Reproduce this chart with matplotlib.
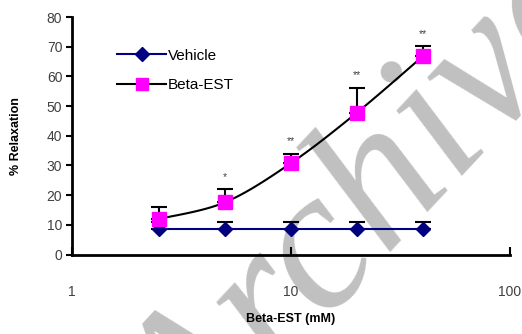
import numpy as np
import matplotlib
matplotlib.use("Agg")
from matplotlib import pyplot as plt

plt.rcParams['font.family'] = ['Liberation Sans', 'DejaVu Sans']

# Data
conc = [2.5, 5, 10, 20, 40]
vehicle = [8.5, 8.5, 8.5, 8.5, 8.5]
vehicle_err = [2.4, 2.4, 2.4, 2.4, 2.4]
beta = [12.0, 17.6, 30.8, 47.8, 66.8]
beta_err = [4.0, 4.3, 3.2, 8.3, 3.3]
stars = ['', '*', '**', '**', '**']


def smooth(x, y, n=30):
    # Catmull-Rom curve in log-x space, like a spreadsheet smoothed line
    lx = np.log10(x)
    px = np.concatenate([[lx[0]], lx, [lx[-1]]])
    py = np.concatenate([[y[0]], y, [y[-1]]])
    xs, ys = [], []
    for i in range(1, len(px) - 2):
        t = np.linspace(0, 1, n)
        for p, out in ((px, xs), (py, ys)):
            p0, p1, p2, p3 = p[i - 1], p[i], p[i + 1], p[i + 2]
            out.extend(0.5 * ((2 * p1) + (-p0 + p2) * t
                              + (2 * p0 - 5 * p1 + 4 * p2 - p3) * t ** 2
                              + (-p0 + 3 * p1 - 3 * p2 + p3) * t ** 3))
    return 10 ** np.array(xs), np.array(ys)


fig = plt.figure(figsize=(5.22, 3.34), dpi=100)
ax = fig.add_axes([0.138, 0.238, 0.839, 0.711])

# watermark
fig.text(0.713, 0.36, 'Archive', fontsize=145, family='Liberation Serif',
         style='italic', color='#c0c0c0', rotation=47,
         ha='center', va='center', zorder=-1)
ax.set_facecolor('none')

# Vehicle
ax.errorbar(conc, vehicle, yerr=[np.zeros(5), vehicle_err], fmt='none',
            ecolor='black', elinewidth=1.5, capsize=6, capthick=1.5, zorder=2)
ax.plot(conc, vehicle, color='#000080', lw=1.5, marker='D', ms=7,
        mfc='#000080', mec='#000080', label='Vehicle', zorder=3)

# Beta-EST
ax.errorbar(conc, beta, yerr=[np.zeros(5), beta_err], fmt='none',
            ecolor='black', elinewidth=1.5, capsize=6, capthick=1.5, zorder=2)
sx, sy = smooth(conc, beta)
ax.plot(sx, sy, color='black', lw=1.5, zorder=3)
ax.plot(conc, beta, ls='none', marker='s', ms=10, mfc='#ff00ff',
        mec='#ff00ff', zorder=4)
ax.plot([], [], color='black', lw=1.5, marker='s', ms=9, mfc='#ff00ff',
        mec='#ff00ff', label='Beta-EST')

for xi, yi, ei, s in zip(conc, beta, beta_err, stars):
    if s:
        ax.text(xi, yi + ei + 2.5, s, ha='center', va='bottom',
                fontsize=7.5, color='#404040')

ax.set_xscale('log')
ax.set_xlim(1, 100)
ax.set_ylim(0, 80)
ax.set_yticks(range(0, 81, 10))
ax.set_xticks([1, 10, 100])
ax.set_xticklabels(['1', '10', '100'])
ax.xaxis.set_minor_locator(matplotlib.ticker.NullLocator())
ax.tick_params(axis='y', direction='out', length=4, width=1.5,
               labelsize=10, labelcolor='#404040', pad=3)
ax.tick_params(axis='x', direction='in', length=6, width=1.5,
               labelsize=10, labelcolor='#404040', pad=22)
for s in ['top', 'right']:
    ax.spines[s].set_visible(False)
for s in ['left', 'bottom']:
    ax.spines[s].set_linewidth(2)

ax.set_ylabel('% Relaxation', fontsize=9, weight='bold', labelpad=18)
ax.set_xlabel('Beta-EST (mM)', fontsize=9, weight='bold', labelpad=10)

ax.legend(loc='upper left', bbox_to_anchor=(0.072, 0.925), frameon=False,
          fontsize=11, handlelength=3.2, handletextpad=0.1, labelspacing=1.0)

fig.savefig('out.png', dpi=100)
